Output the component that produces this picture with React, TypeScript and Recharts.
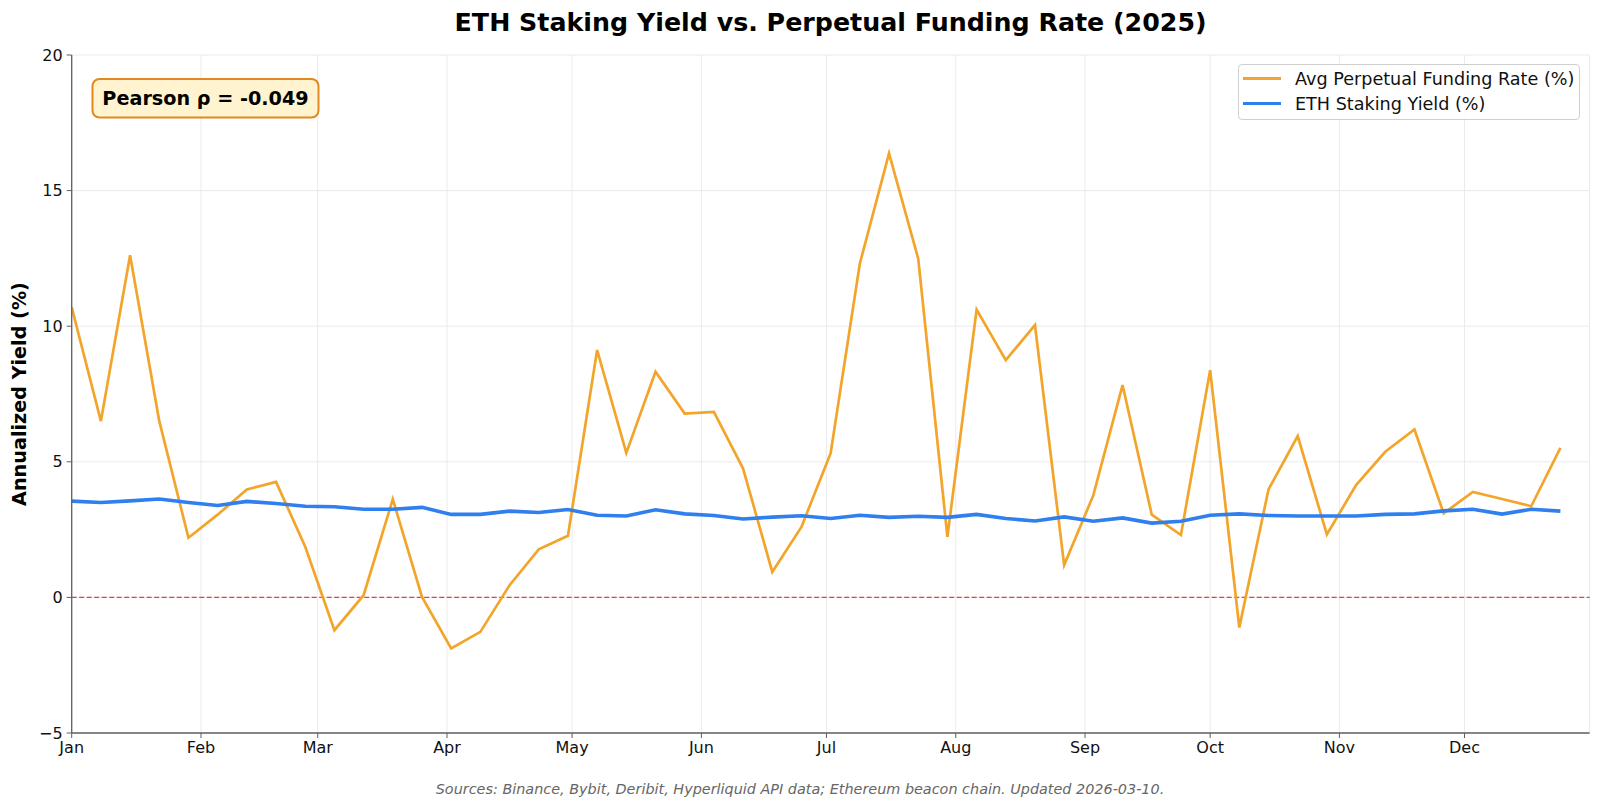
import React from 'react';
import { LineChart, Line, XAxis, YAxis, CartesianGrid, ReferenceLine } from 'recharts';

// Week start, as day offset from 2025-01-01
const WEEK_DAY = [
  0, 7, 14, 21, 28, 35, 42, 49, 56, 63, 70, 77, 84, 91, 98, 105, 112, 119, 126, 133,
  140, 147, 154, 161, 168, 175, 182, 189, 196, 203, 210, 217, 224, 231, 238, 245, 252,
  259, 266, 273, 280, 287, 294, 301, 308, 315, 322, 329, 336, 343, 350, 357,
];

const FUNDING = [
  10.7, 6.5, 12.62, 6.5, 2.2, 3.05, 3.98, 4.26, 1.87, -1.21, 0.08, 3.62, 0.02, -1.88,
  -1.27, 0.45, 1.77, 2.27, 9.12, 5.33, 8.32, 6.78, 6.84, 4.75, 0.94, 2.6, 5.32, 12.31,
  16.37, 12.49, 2.23, 10.61, 8.75, 10.04, 1.19, 3.77, 7.83, 3.05, 2.3, 8.38, -1.11, 3.98,
  5.95, 2.32, 4.14, 5.37, 6.19, 3.1, 3.89, 3.63, 3.36, 5.51,
];

const STAKING = [
  3.55, 3.5, 3.56, 3.63, 3.5, 3.39, 3.54, 3.46, 3.36, 3.34, 3.25, 3.25, 3.32, 3.06,
  3.06, 3.18, 3.13, 3.24, 3.03, 3.0, 3.23, 3.08, 3.02, 2.89, 2.96, 3.01, 2.91, 3.03,
  2.95, 2.99, 2.95, 3.06, 2.91, 2.82, 2.97, 2.81, 2.93, 2.74, 2.81, 3.03, 3.08, 3.02,
  3.0, 3.0, 3.0, 3.06, 3.08, 3.19, 3.25, 3.07, 3.25, 3.18,
];

const MONTH_TICKS = [0, 31, 59, 90, 120, 151, 181, 212, 243, 273, 304, 334];
const MONTH_LABELS = ['Jan', 'Feb', 'Mar', 'Apr', 'May', 'Jun', 'Jul', 'Aug', 'Sep', 'Oct', 'Nov', 'Dec'];
const Y_TICKS = [-5, 0, 5, 10, 15, 20];

const SERIES_NAMES = ['Avg Perpetual Funding Rate (%)', 'ETH Staking Yield (%)'];
const TITLE = 'ETH Staking Yield vs. Perpetual Funding Rate (2025)';
const Y_LABEL = 'Annualized Yield (%)';
const FOOTER = 'Sources: Binance, Bybit, Deribit, Hyperliquid API data; Ethereum beacon chain. Updated 2026-03-10.';
const PEARSON = 'Pearson \u03c1 = -0.049';

const ORANGE = '#f2a52a';
const BLUE = '#2f7fee';
const SPINE = '#5f5f5f';
const FONT = '"DejaVu Sans", Verdana, sans-serif';

const data = WEEK_DAY.map((d, i) => ({ day: d, funding: FUNDING[i], staking: STAKING[i] }));

const fmtMonth = (v: number) => {
  const idx = MONTH_TICKS.indexOf(v);
  return idx >= 0 ? MONTH_LABELS[idx] : '';
};
const fmtY = (v: number) => (v < 0 ? '\u2212' + Math.abs(v) : String(v));

const LEGEND_ITEMS = [
  { name: SERIES_NAMES[0], color: ORANGE, width: 2.6 },
  { name: SERIES_NAMES[1], color: BLUE, width: 3.6 },
];

export default function App() {
  return (
    <div style={{ position: 'absolute', left: 0, top: 0, width: 1600, height: 808, background: '#fff' }}>
      <LineChart
        width={1600}
        height={808}
        data={data}
        margin={{ top: 55, right: 10.4, bottom: 45, left: 11.7 }}
        style={{ fontFamily: FONT }}
      >
        <CartesianGrid stroke="#ebebeb" strokeWidth={1} />
        <XAxis
          dataKey="day"
          type="number"
          domain={[0, 364]}
          ticks={MONTH_TICKS}
          tickFormatter={fmtMonth}
          allowDataOverflow
          height={30}
          tickSize={5}
          tickMargin={4}
          axisLine={{ stroke: SPINE, strokeWidth: 1.3 }}
          tickLine={{ stroke: SPINE }}
          tick={{ fill: '#111', fontSize: 16, fontFamily: FONT }}
        />
        <XAxis
          xAxisId="top"
          orientation="top"
          dataKey="day"
          type="number"
          domain={[0, 364]}
          height={0}
          tick={false}
          tickLine={false}
          axisLine={{ stroke: SPINE, strokeWidth: 1.3 }}
        />
        <YAxis
          type="number"
          domain={[-5, 20]}
          ticks={Y_TICKS}
          tickFormatter={fmtY}
          allowDataOverflow
          width={60}
          tickSize={5}
          tickMargin={4}
          axisLine={{ stroke: SPINE, strokeWidth: 1.3 }}
          tickLine={{ stroke: SPINE }}
          tick={{ fill: '#111', fontSize: 16, fontFamily: FONT }}
        />
        <YAxis
          yAxisId="right"
          orientation="right"
          type="number"
          domain={[-5, 20]}
          width={0}
          tick={false}
          tickLine={false}
          axisLine={{ stroke: SPINE, strokeWidth: 1.3 }}
        />
        <ReferenceLine
          y={0}
          stroke="#e8413c"
          strokeWidth={1.2}
          strokeDasharray="5 2.5"
          style={{ stroke: '#e8413c' }}
        />
        <Line
          type="linear"
          dataKey="funding"
          name={SERIES_NAMES[0]}
          stroke={ORANGE}
          strokeWidth={2.7}
          dot={false}
          isAnimationActive={false}
        />
        <Line
          type="linear"
          dataKey="staking"
          name={SERIES_NAMES[1]}
          stroke={BLUE}
          strokeWidth={3.6}
          dot={false}
          isAnimationActive={false}
        />
      </LineChart>
      <div
        style={{
          position: 'absolute',
          left: 1238,
          top: 64,
          width: 342,
          height: 56,
          boxSizing: 'border-box',
          border: '1px solid #cfcfcf',
          borderRadius: 4,
          background: 'rgba(255,255,255,0.85)',
          paddingTop: 1,
          fontFamily: FONT,
          fontSize: 17.6,
          color: '#111',
        }}
      >
        {LEGEND_ITEMS.map((p, i) => (
          <div key={i} style={{ display: 'flex', alignItems: 'center', height: 25 }}>
            <div style={{ width: 38, height: p.width, background: p.color, marginLeft: 4, marginRight: 14 }} />
            <span style={{ whiteSpace: 'nowrap' }}>{p.name}</span>
          </div>
        ))}
      </div>
      <svg
        width={1600}
        height={808}
        style={{ position: 'absolute', left: 0, top: 0, pointerEvents: 'none', fontFamily: FONT }}
      >
        <text x={830.6} y={22.5} textAnchor="middle" dominantBaseline="central" fontSize={25.3} fontWeight="bold" fill="#000">
          {TITLE}
        </text>
        <text
          x={19}
          y={394}
          textAnchor="middle"
          dominantBaseline="central"
          fontSize={19.2}
          fontWeight="bold"
          fill="#000"
          transform="rotate(-90 19 394)"
        >
          {Y_LABEL}
        </text>
        <text x={800} y={789} textAnchor="middle" dominantBaseline="central" fontSize={14.4} fontStyle="italic" fill="#666">
          {FOOTER}
        </text>
        <rect x={92.5} y={79} width={226} height={38.5} rx={7} ry={7} fill="#fff4cf" stroke="#e0891f" strokeWidth={2} />
        <text x={205.5} y={98.5} textAnchor="middle" dominantBaseline="central" fontSize={19.2} fontWeight="bold" fill="#000">
          {PEARSON}
        </text>
      </svg>
    </div>
  );
}
